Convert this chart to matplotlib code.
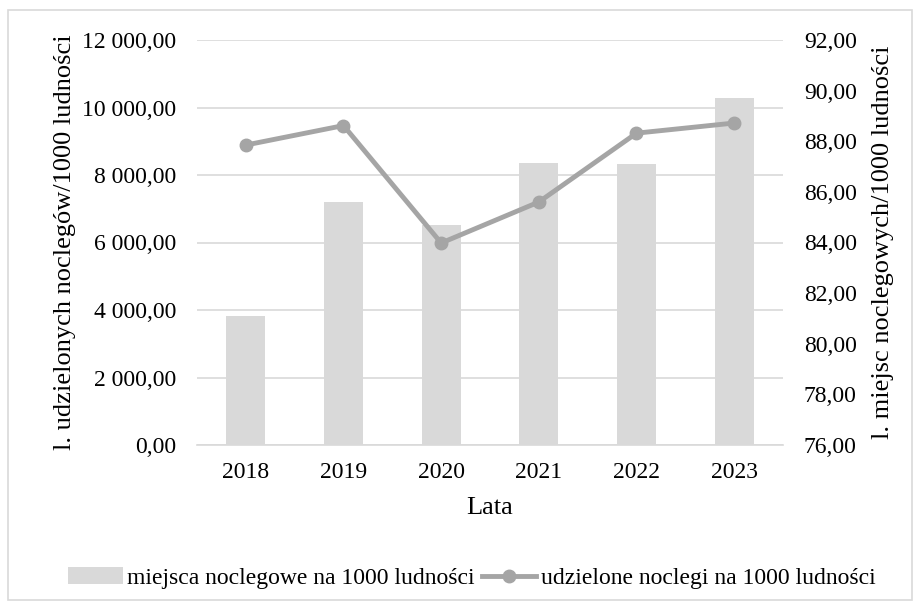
import matplotlib.pyplot as plt
import matplotlib.ticker as mticker
from matplotlib.patches import Rectangle

plt.rcParams['font.family'] = ['Liberation Serif', 'DejaVu Serif']

lata = ['2018', '2019', '2020', '2021', '2022', '2023']
miejsca = [3820, 7200, 6520, 8360, 8330, 10280]
noclegi = [87.85, 88.62, 83.98, 85.60, 88.32, 88.72]


def fmt_pl(v, pos=None):
    s = f"{v:,.2f}"
    return s.replace(',', ' ').replace('.', ',')


fig = plt.figure(figsize=(9.2, 6.1), dpi=100)
fig.patches.append(Rectangle((8 / 920, 10 / 610), 904 / 920, 590 / 610,
                             transform=fig.transFigure, fill=False,
                             edgecolor='#d9d9d9', linewidth=1.2))

ax = fig.add_axes([197 / 920, 1 - 445 / 610, 586 / 920, 405 / 610])
ax2 = ax.twinx()

x = list(range(len(lata)))
bars = ax.bar(x, miejsca, width=0.4, color='#d9d9d9', zorder=2,
              label='miejsca noclegowe na 1000 ludności')
line, = ax2.plot(x, noclegi, color='#a5a5a5', linewidth=3.5, marker='o',
                 markersize=9, zorder=3,
                 label='udzielone noclegi na 1000 ludności')

ax.set_xlim(-0.5, len(lata) - 0.5)
ax.set_ylim(0, 12000)
ax.set_yticks(range(0, 12001, 2000))
ax.yaxis.set_major_formatter(mticker.FuncFormatter(fmt_pl))
ax2.set_ylim(76, 92)
ax2.set_yticks(range(76, 93, 2))
ax2.yaxis.set_major_formatter(mticker.FuncFormatter(fmt_pl))

ax.set_xticks(x)
ax.set_xticklabels(lata)
ax.grid(axis='y', color='#d9d9d9', linewidth=1.2, zorder=0)
ax.set_axisbelow(True)

for a in (ax, ax2):
    for sp in a.spines.values():
        sp.set_visible(False)
    a.tick_params(axis='y', length=0, labelsize=17, pad=15)
ax.tick_params(axis='x', length=0, labelsize=17, pad=12)
ax.spines['bottom'].set_visible(True)
ax.spines['bottom'].set_color('#d9d9d9')
ax.spines['bottom'].set_linewidth(1.2)

ax.set_xlabel('Lata', fontsize=19, labelpad=10)
ax.set_ylabel('l. udzielonych noclegów/1000 ludności', fontsize=19, labelpad=4)
ax2.set_ylabel('l. miejsc noclegowych/1000 ludności', fontsize=19, labelpad=11)

fig.legend(handles=[bars, line], loc='center', bbox_to_anchor=(472 / 920, 1 - 578 / 610),
           ncol=2, frameon=False, fontsize=17, handlelength=2.3,
           handletextpad=0.2, columnspacing=0.3)

fig.savefig('out.png', dpi=100)
